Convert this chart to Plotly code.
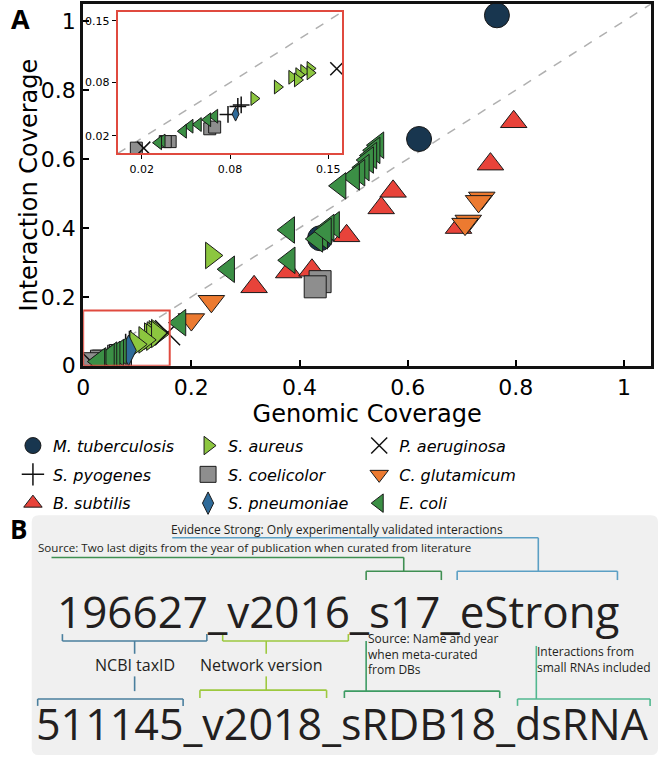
import plotly.graph_objects as go

W, H = 659, 771

species = ["M. tuberculosis", "S. pyogenes", "B. subtilis",
           "S. aureus", "S. coelicolor", "S. pneumoniae",
           "P. aeruginosa", "C. glutamicum", "E. coli"]

mtub_x = [0.765, 0.621, 0.438]
mtub_y = [1.017, 0.658, 0.370]
spyo_x = [0.0785, 0.0855, 0.0879]
spyo_y = [0.0440, 0.0530, 0.0548]
bsub_x = [0.796, 0.753, 0.573, 0.551, 0.487, 0.694, 0.316, 0.380, 0.423]
bsub_y = [0.708, 0.585, 0.506, 0.458, 0.377, 0.401, 0.229, 0.272, 0.277]
saur_x = [0.237, 0.137, 0.1325, 0.129, 0.124, 0.128, 0.137, 0.1137, 0.097]
saur_y = [0.320, 0.096, 0.0926, 0.089, 0.086, 0.083, 0.091, 0.075, 0.062]
scoe_x = [0.438, 0.429, 0.0655, 0.069, 0.0373, 0.0338, 0.0132]
scoe_y = [0.244, 0.229, 0.0278, 0.0297, 0.0133, 0.0133, 0.0059]
spne_x = [0.0839]
spne_y = [0.0444]
paer_x = [0.156, 0.0185]
paer_y = [0.0956, 0.0059]
cglu_x = [0.737, 0.731, 0.712, 0.706, 0.237, 0.200]
cglu_y = [0.487, 0.477, 0.420, 0.411, 0.187, 0.134]
ecol_x = [0.545, 0.538, 0.532, 0.526, 0.518, 0.510, 0.500, 0.475,
          0.380, 0.463, 0.453, 0.441, 0.432, 0.448, 0.381, 0.269, 0.179,
          0.069, 0.064, 0.0573, 0.0514, 0.0467, 0.0315, 0.029]
ecol_y = [0.640, 0.625, 0.610, 0.597, 0.575, 0.560, 0.548, 0.522,
          0.394, 0.409, 0.401, 0.377, 0.368, 0.390, 0.306, 0.280, 0.125,
          0.042, 0.038, 0.0326, 0.0307, 0.025, 0.014, 0.012]

xs = [mtub_x, spyo_x, bsub_x, saur_x, scoe_x, spne_x, paer_x, cglu_x, ecol_x]
ys = [mtub_y, spyo_y, bsub_y, saur_y, scoe_y, spne_y, paer_y, cglu_y, ecol_y]

main_ticks = [0, 0.2, 0.4, 0.6, 0.8, 1]
main_ticktext = ["0", "0.2", "0.4", "0.6", "0.8", "1"]
inset_xticks = [0.017, 0.08, 0.15]
inset_yticks = [0.02, 0.08, 0.15]
inset_ticktext = ["0.02", "0.08", "0.15"]

symbols = ["circle", "cross-thin", "triangle-up", "triangle-right", "square",
           "diamond-tall", "x-thin", "triangle-down", "triangle-left"]
colors = ["#18364f", "#111111", "#e8433a", "#8cc63f", "#8e8e8e",
          "#2f6b9a", "#111111", "#ec7a30", "#3b8f45"]
main_sizes = [25, 24, 23, 23, 22, 22, 25, 23, 23]
inset_sizes = [12, 12, 12, 12, 12, 10, 13, 12, 12]
legends = ["legend", "legend", "legend", "legend2", "legend2", "legend2",
           "legend3", "legend3", "legend3"]
thin = {"cross-thin", "x-thin"}

fig = go.Figure()
for i, name in enumerate(species):
    sym = symbols[i]
    for which in ("main", "inset"):
        size = main_sizes[i] if which == "main" else inset_sizes[i]
        if sym in thin:
            mk = dict(symbol=sym, size=size, color=colors[i],
                      line=dict(color=colors[i], width=1.5))
        else:
            mk = dict(symbol=sym, size=size, color=colors[i],
                      line=dict(color="#1a1a1a", width=1))
        fig.add_trace(go.Scatter(
            x=xs[i], y=ys[i], mode="markers", name=name, marker=mk,
            legendgroup=name, legend=legends[i],
            showlegend=(which == "main"),
            xaxis="x" if which == "main" else "x2",
            yaxis="y" if which == "main" else "y2",
        ))

def PX(x):
    return x / W

def PY(y):
    return 1 - y / H

tickfont = dict(family="DejaVu Sans", size=22, color="black")
axis_common = dict(range=[0, 1.05], tickvals=main_ticks, ticktext=main_ticktext,
                   ticks="inside", ticklen=6, tickwidth=1.5, tickcolor="black",
                   showline=True, linewidth=3, linecolor="#111111", mirror=True,
                   showgrid=False, zeroline=False, tickfont=tickfont)
inset_common = dict(range=[0, 0.16], ticktext=inset_ticktext,
                    ticks="outside", ticklen=4, tickwidth=1, tickcolor="black",
                    showline=True, linewidth=2, linecolor="#e04a3f", mirror=True,
                    showgrid=False, zeroline=False,
                    tickfont=dict(family="DejaVu Sans", size=11, color="black"))

legend_common = dict(xanchor="left", yanchor="top", bgcolor="rgba(0,0,0,0)",
                     font=dict(family="DejaVu Sans", size=16, style="italic", color="black"),
                     tracegroupgap=5, itemsizing="trace", orientation="v")

shapes = []
shapes.append(dict(type="line", xref="x", yref="y", x0=0, y0=0, x1=1.05, y1=1.05,
                   line=dict(color="#b0b0b0", width=1.5, dash="dash"), layer="below"))
shapes.append(dict(type="line", xref="x2", yref="y2", x0=0, y0=0, x1=0.16, y1=0.16,
                   line=dict(color="#b0b0b0", width=1.5, dash="dash"), layer="below"))
shapes.append(dict(type="rect", xref="x", yref="y", x0=0, y0=0, x1=0.16, y1=0.16,
                   line=dict(color="#e04a3f", width=2), layer="above"))

bx0, by0, bx1, by1, r = 25, 524, 658, 768, 7
path = (f"M {PX(bx0 + r)},{PY(by0)} L {PX(bx1 - r)},{PY(by0)} "
        f"Q {PX(bx1)},{PY(by0)} {PX(bx1)},{PY(by0 + r)} "
        f"L {PX(bx1)},{PY(by1 - r)} Q {PX(bx1)},{PY(by1)} {PX(bx1 - r)},{PY(by1)} "
        f"L {PX(bx0 + r)},{PY(by1)} Q {PX(bx0)},{PY(by1)} {PX(bx0)},{PY(by1 - r)} "
        f"L {PX(bx0)},{PY(by0 + r)} Q {PX(bx0)},{PY(by0)} {PX(bx0 + r)},{PY(by0)} Z")
shapes.append(dict(type="path", xref="paper", yref="paper", path=path,
                   fillcolor="#f0f0f0", line=dict(width=0), layer="below"))

def seg(x0, y0, x1, y1, color, w=1.6):
    shapes.append(dict(type="line", xref="paper", yref="paper",
                       x0=PX(x0), y0=PY(y0), x1=PX(x1), y1=PY(y1),
                       line=dict(color=color, width=w)))

def bracket(xa, xb, y, tip, color):
    seg(xa, y, xb, y, color)
    seg(xa, y, xa, tip, color)
    seg(xb, y, xb, tip, color)

c_evid = "#5b9fc4"
c_lit = "#3f8f52"
c_tax = "#4a7f9e"
c_net = "#9dc93f"
c_db = "#3d9b63"
c_rna = "#52b890"

seg(167, 547, 537, 547, c_evid)
seg(537, 547, 537, 581, c_evid)
bracket(455, 617, 581, 590, c_evid)
seg(45, 567, 401, 567, c_lit)
seg(401, 567, 401, 581, c_lit)
bracket(363, 439, 581, 590, c_lit)
bracket(56, 202, 652, 645, c_tax)
seg(129, 652, 129, 665, c_tax)
seg(129, 688, 129, 703, c_tax)
bracket(31, 178, 711, 718, c_tax)
bracket(218, 345, 652, 645, c_net)
seg(262, 652, 262, 665, c_net)
seg(262, 688, 262, 702, c_net)
bracket(195, 323, 702, 710, c_net)
seg(363, 652, 363, 703, c_db)
bracket(341, 498, 703, 710, c_db)
seg(535, 657, 535, 711, c_rna)
bracket(516, 650, 711, 718, c_rna)

tcol = "#231f20"
annotations = []

def txt(x, y, s, size, xanchor="left", family="Open Sans", weight="normal",
        color=tcol, angle=0):
    annotations.append(dict(xref="paper", yref="paper", x=PX(x), y=PY(y), text=s,
                            showarrow=False, xanchor=xanchor, yanchor="middle",
                            align="left", borderpad=0, textangle=angle,
                            font=dict(family=family, size=size, color=color, weight=weight)))

txt(3, 18.5, "A", 27, weight="bold", color="black")
txt(2, 538, "B", 26, weight="bold", color="black")
txt(22, 188, "Interaction Coverage", 24, xanchor="center", family="DejaVu Sans",
    color="black", angle=-90)
txt(165, 539, "Evidence Strong: Only experimentally validated interactions", 12)
txt(30, 557, "Source: Two last digits from the year of publication when curated from literature", 11.6)
txt(335, 621, "196627_v2016_s17_eStrong", 44, xanchor="center")
txt(129, 676, "NCBI taxID", 16, xanchor="center")
txt(257, 676, "Network version", 16, xanchor="center")
txt(364, 665, "Source: Name and year<br>when meta-curated<br>from DBs", 12)
txt(535, 671, "Interactions from<br>small RNAs included", 12)
txt(339, 736, "511145_v2018_sRDB18_dsRNA", 43, xanchor="center")

fig.update_layout(
    width=W, height=H,
    margin=dict(l=0, r=0, t=0, b=0),
    paper_bgcolor="white", plot_bgcolor="white",
    xaxis=dict(domain=[PX(77), PX(651)], anchor="y",
               title=dict(text="Genomic Coverage", standoff=2,
                          font=dict(family="DejaVu Sans", size=24, color="black")),
               **axis_common),
    yaxis=dict(domain=[PY(372), PY(4)], anchor="x", **axis_common),
    xaxis2=dict(domain=[PX(112), PX(339)], anchor="y2", tickvals=inset_xticks, **inset_common),
    yaxis2=dict(domain=[PY(156), PY(12)], anchor="x2", tickvals=inset_yticks, **inset_common),
    legend=dict(x=PX(6), y=PY(436), **legend_common),
    legend2=dict(x=PX(183), y=PY(436), **legend_common),
    legend3=dict(x=PX(356), y=PY(436), **legend_common),
    shapes=shapes,
    annotations=annotations,
    showlegend=True,
)

fig.write_html("out.html", config={"displayModeBar": False},
               post_script="document.documentElement.style.margin='0';document.body.style.margin='0';")
